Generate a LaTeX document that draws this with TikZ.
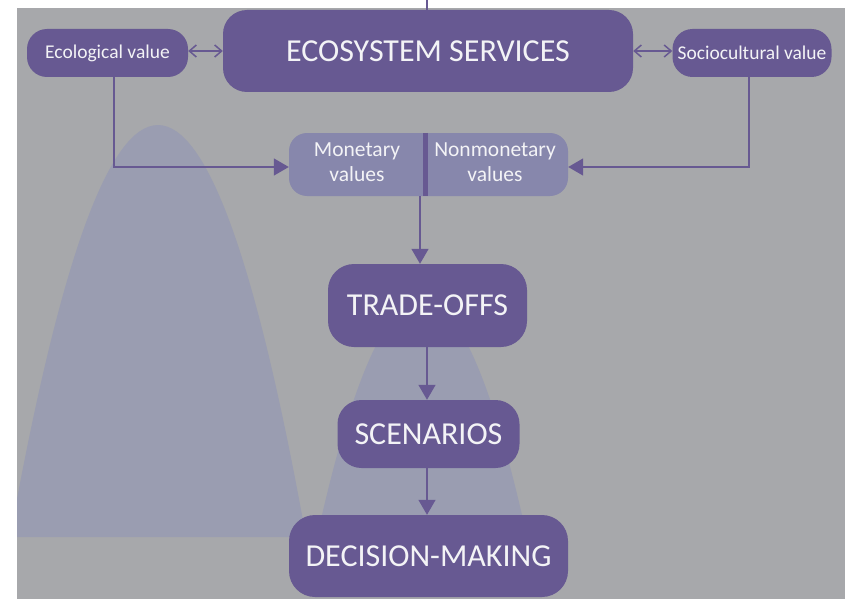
\documentclass[tikz,border=0pt]{standalone}
\usepackage{fontspec}
\setmainfont{Carlito}
\usetikzlibrary{arrows.meta}
\definecolor{dpurple}{RGB}{103,89,146}
\definecolor{lpurple}{RGB}{135,135,172}
\definecolor{mount}{RGB}{154,157,177}
\definecolor{bggray}{RGB}{167,168,171}
\definecolor{txt}{RGB}{243,243,246}
\begin{document}
\begin{tikzpicture}[x=1pt,y=-1pt,
  box/.style={fill=dpurple, rounded corners=#1, text=txt, inner sep=0pt, align=center},
  bigfont/.style={font=\fontsize{32}{32}\selectfont},
  smallfont/.style={font=\fontsize{19.5}{21}\selectfont},
  valfont/.style={font=\fontsize{21.5}{25}\selectfont},
  link/.style={draw=dpurple, line width=1.5pt},
  tri/.style={link, -{Triangle[length=15pt,width=17pt]}},
  barb/.style={link, {Straight Barb[length=7pt,width=12pt]}-{Straight Barb[length=7pt,width=12pt]}}]
\useasboundingbox (0,0) rectangle (850,599);
\fill[white] (0,0) rectangle (850,599);
\fill[bggray] (17,8) rectangle (845,599);
\begin{scope}
  \clip (17,8) rectangle (845,537);
  \fill[mount] (10,537) .. controls (108.7,-12.3) and (207.3,-12.3) .. (306,537) -- cycle;
  \fill[mount] (317,537) .. controls (387,221) and (457,221) .. (527,537) -- cycle;
\end{scope}

\node[box=24pt, bigfont, minimum width=410pt, minimum height=82pt] (es) at (428,51) {ECOSYSTEM SERVICES};
\node[box=20pt, smallfont, minimum width=161pt, minimum height=48pt] (eco) at (107.5,53) {Ecological value};
\node[box=20pt, smallfont, minimum width=159pt, minimum height=48pt] (soc) at (752,53) {Sociocultural value};
\node[box=18pt, fill=lpurple, minimum width=279pt, minimum height=63pt] (vals) at (428.5,164.5) {};
\node[text=txt, valfont, align=center, inner sep=0pt] (mon) at (357,162.5) {Monetary\\values};
\node[text=txt, valfont, align=center, inner sep=0pt] (nonmon) at (495,162.5) {Nonmonetary\\values};
\node[box=26pt, bigfont, minimum width=199pt, minimum height=83pt] (trade) at (427.5,305.5) {TRADE-OFFS};
\node[box=24pt, bigfont, minimum width=182pt, minimum height=68pt] (scen) at (428.5,434) {SCENARIOS};
\node[box=26pt, bigfont, minimum width=279pt, minimum height=82pt] (dec) at (428.5,556) {DECISION-MAKING};

\coordinate (dv) at (425.5,0);
\coordinate (ecoturn) at (114,167);
\coordinate (socturn) at (749,167);
\coordinate (vx) at (420,0);
\coordinate (sx) at (427,0);
\coordinate (tx) at (427,0);

\draw[dpurple, line width=5pt] (vals.north -| dv) -- (vals.south -| dv);
\draw[link] (es.north -| tx) -- (tx);
\draw[barb] (eco.east |- es.west) -- (es.west);
\draw[barb] (es.east) -- (soc.west |- es.east);
\draw[tri] (eco.south -| ecoturn) -- (ecoturn) -- (vals.west |- ecoturn);
\draw[tri] (soc.south -| socturn) -- (socturn) -- (vals.east |- socturn);
\draw[tri] (vals.south -| vx) -- (trade.north -| vx);
\draw[tri] (trade.south -| sx) -- (scen.north -| sx);
\draw[tri] (scen.south -| sx) -- (dec.north -| sx);
\end{tikzpicture}
\end{document}
